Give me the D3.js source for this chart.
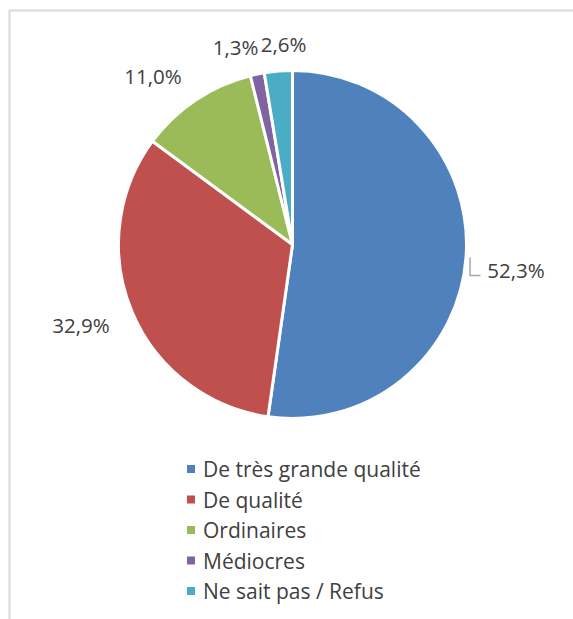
<!DOCTYPE html>
<html lang="fr">
  <head>
    <meta charset="UTF-8" />
    <title>Qualité</title>
    <script src="https://d3js.org/d3.v7.min.js"></script>
    <style>
      body {
        margin: 0;
        background-color: #fff;
        font-family: "Open Sans", sans-serif;
      }
    </style>
  </head>
  <body>
    <div id="chart"></div>
    <script>
      const categories = [
        "De très grande qualité",
        "De qualité",
        "Ordinaires",
        "Médiocres",
        "Ne sait pas / Refus",
      ];
      const values = [52.3, 32.9, 11.0, 1.3, 2.6];
      const labels = ["52,3%", "32,9%", "11,0%", "1,3%", "2,6%"];
      const colors = ["#4f81bd", "#c0504d", "#9bbb59", "#8064a2", "#4bacc6"];

      const width = 573;
      const height = 619;
      const cx = 292.5;
      const cy = 244.5;
      const radius = 174;

      const svg = d3
        .select("#chart")
        .append("svg")
        .attr("width", width)
        .attr("height", height);

      // cadre gris clair
      svg
        .append("rect")
        .attr("x", 9.5)
        .attr("y", 10.5)
        .attr("width", width)
        .attr("height", height)
        .attr("fill", "none")
        .attr("stroke", "#d9d9d9")
        .attr("stroke-width", 2);

      const pie = d3.pie().sort(null).value((d) => d);
      const arcs = pie(values);
      const arc = d3.arc().innerRadius(0).outerRadius(radius);

      const g = svg.append("g").attr("transform", `translate(${cx},${cy})`);

      g.selectAll("path")
        .data(arcs)
        .enter()
        .append("path")
        .attr("d", arc)
        .attr("fill", (d, i) => colors[i])
        .attr("stroke", "#fff")
        .attr("stroke-width", 3)
        .attr("stroke-linejoin", "round");

      // étiquettes (positions relatives au centre)
      const labelPos = [
        [223.5, 25.5],
        [-211.5, 80.5],
        [-139.5, -168.5],
        [-57, -197.5],
        [-9, -200.5],
      ];

      g.selectAll(".lbl")
        .data(arcs)
        .enter()
        .append("text")
        .attr("class", "lbl")
        .attr("x", (d, i) => labelPos[i][0])
        .attr("y", (d, i) => labelPos[i][1])
        .attr("text-anchor", "middle")
        .attr("dominant-baseline", "central")
        .attr("font-size", 20.5)
        .attr("fill", "#404040")
        .text((d, i) => labels[i]);

      // ligne de rappel pour 52,3%
      g.append("path")
        .attr("d", "M177.5,13 L177.5,31 L188,31")
        .attr("fill", "none")
        .attr("stroke", "#a6a6a6")
        .attr("stroke-width", 1.5);

      // légende
      const legend = svg
        .append("g")
        .attr("transform", "translate(187,469)");

      const rows = legend
        .selectAll(".row")
        .data(categories)
        .enter()
        .append("g")
        .attr("class", "row")
        .attr("transform", (d, i) => `translate(0,${i * 30.5})`);

      rows
        .append("rect")
        .attr("x", 0)
        .attr("y", -4)
        .attr("width", 8)
        .attr("height", 8)
        .attr("fill", (d, i) => colors[i]);

      rows
        .append("text")
        .attr("x", 16)
        .attr("y", 0)
        .attr("dominant-baseline", "central")
        .attr("font-size", 21)
        .attr("fill", "#404040")
        .text((d) => d);
    </script>
  </body>
</html>
